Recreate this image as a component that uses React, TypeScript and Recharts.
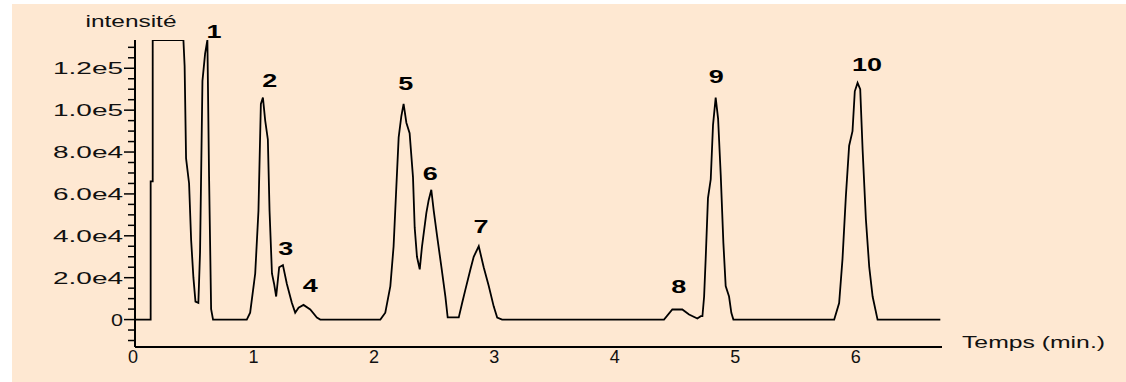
import React from "react";
import { LineChart, Line, XAxis, YAxis, ReferenceDot, Label } from "recharts";

// chromatogram trace (time in min, intensity)
const times = [
  0, 0.13, 0.13, 0.147, 0.147, 0.402, 0.412, 0.424, 0.449, 0.466, 0.485, 0.502, 0.526, 0.54, 0.56, 0.582,
  0.601, 0.615, 0.632, 0.648,
  0.928, 0.956, 0.998, 1.025, 1.045, 1.062, 1.081, 1.103, 1.117, 1.137, 1.155, 1.172, 1.197, 1.228, 1.261,
  1.302, 1.33, 1.358, 1.399, 1.455, 1.51, 1.538,
  2.037, 2.078, 2.12, 2.147, 2.167, 2.189, 2.211, 2.23, 2.253, 2.28, 2.308, 2.322, 2.341, 2.364, 2.383,
  2.419, 2.438, 2.46, 2.48, 2.508, 2.544, 2.577, 2.596, 2.688, 2.716, 2.743, 2.785, 2.812, 2.854, 2.895,
  2.937, 2.978, 3.007, 3.048,
  4.392, 4.461, 4.544, 4.6, 4.669, 4.697, 4.711, 4.725, 4.738, 4.757, 4.78, 4.799, 4.821, 4.841, 4.863,
  4.885, 4.904, 4.932, 4.951, 4.968,
  5.805, 5.846, 5.874, 5.902, 5.929, 5.957, 5.976, 5.999, 6.021, 6.041, 6.068, 6.096, 6.124, 6.165, 6.686,
];
const intensities = [
  0, 0, 66000, 66000, 133500, 133500, 121000, 77000, 65000, 38000, 20000, 8600, 8000, 32000, 114000, 127000,
  133500, 68000, 5000, 0,
  0, 3300, 22000, 52000, 103000, 106000, 95000, 86000, 52000, 22000, 17000, 11000, 25000, 26000, 17000,
  8000, 3300, 5700, 7000, 4800, 1000, 0,
  0, 3300, 16000, 35000, 60000, 87000, 97000, 103000, 94000, 89000, 68000, 44000, 30000, 24000, 35000,
  51000, 57000, 62000, 52000, 40000, 25000, 11000, 1000, 1000, 7900, 14300, 24000, 30000, 35000, 25000,
  16000, 6300, 1000, 0,
  0, 4800, 4800, 2400, 500, 1600, 1600, 11000, 29000, 58000, 67000, 93000, 106000, 96000, 69000,
  36500, 16000, 11000, 3200, 0,
  0, 7900, 29000, 59000, 83000, 90000, 109000, 113000, 110000, 81000, 48000, 25000, 11000, 0, 0,
];

// peak numbers and where they sit
const peakIds = ["1", "2", "3", "4", "5", "6", "7", "8", "9", "10"];
const peakLabelTimes = [0.657, 1.118, 1.251, 1.455, 2.249, 2.452, 2.872, 4.514, 4.825, 6.077];
const peakLabelLevels = [134500, 111000, 30800, 13100, 109700, 66700, 41300, 12700, 113000, 118800];

const xTicks = [0, 1, 2, 3, 4, 5, 6];
const yTicks = [
  -10000, -5000, 0, 5000, 10000, 15000, 20000, 25000, 30000, 35000, 40000, 45000, 50000, 55000, 60000,
  65000, 70000, 75000, 80000, 85000, 90000, 95000, 100000, 105000, 110000, 115000, 120000, 125000, 130000,
];
const yMajorValues = [0, 20000, 40000, 60000, 80000, 100000, 120000];
const yMajorLabels = ["0", "2.0e4", "4.0e4", "6.0e4", "8.0e4", "1.0e5", "1.2e5"];

const data = times.map((t, i) => ({ t, v: intensities[i] }));

const font = "'Liberation Sans', Arial, sans-serif";

const YTick = (props: any) => {
  const { x, y, payload } = props;
  const idx = yMajorValues.indexOf(payload.value);
  const major = idx >= 0;
  return (
    <g>
      <line x1={x - (major ? 11 : 7)} x2={x} y1={y} y2={y} stroke="#000" strokeWidth={1.5} />
      {major && (
        <text
          x={x - 12}
          y={y + 6}
          textAnchor="end"
          fontFamily={font}
          fontSize={17}
          fill="#111"
          textLength={yMajorLabels[idx].length === 1 ? 12 : 70}
          lengthAdjust="spacingAndGlyphs"
        >
          {yMajorLabels[idx]}
        </text>
      )}
    </g>
  );
};

const XTick = (props: any) => {
  const { x, y, payload } = props;
  return (
    <text x={x - 2} y={y + 16} textAnchor="middle" fontFamily={font} fontSize={18} fill="#111">
      {payload.value}
    </text>
  );
};

export default function App() {
  return (
    <div style={{ position: "absolute", left: 0, top: 0, width: 1126, height: 382, background: "#fff" }}>
      <div style={{ position: "absolute", left: 12, top: 4, right: 0, bottom: 0, background: "#fee8d2" }} />
      <div style={{ position: "absolute", left: 0, top: 0 }}>
        <LineChart width={1126} height={382} data={data} margin={{ top: 40, right: 184, bottom: 0, left: 0 }}>
          <XAxis
            dataKey="t"
            type="number"
            domain={[0, 6.7]}
            ticks={xTicks}
            allowDataOverflow
            height={35}
            tickSize={0}
            tickMargin={0}
            tickLine={false}
            axisLine={{ stroke: "#000", strokeWidth: 2 }}
            tick={XTick}
          >
            <Label
              content={(p: any) => (
                <text
                  x={p.viewBox.x + p.viewBox.width + 20}
                  y={p.viewBox.y + 1}
                  fontFamily={font}
                  fontSize={17}
                  fill="#111"
                  textLength={143}
                  lengthAdjust="spacingAndGlyphs"
                >
                  Temps (min.)
                </text>
              )}
            />
          </XAxis>
          <YAxis
            type="number"
            domain={[-13100, 133500]}
            ticks={yTicks}
            allowDataOverflow
            width={135}
            tickSize={0}
            tickMargin={0}
            tickLine={false}
            interval={0}
            axisLine={{ stroke: "#000", strokeWidth: 2 }}
            tick={YTick}
          >
            <Label
              content={(p: any) => (
                <text
                  x={p.viewBox.x + p.viewBox.width - 4}
                  y={p.viewBox.y - 13}
                  textAnchor="middle"
                  fontFamily={font}
                  fontSize={16}
                  fill="#111"
                  textLength={91}
                  lengthAdjust="spacingAndGlyphs"
                >
                  intensité
                </text>
              )}
            />
          </YAxis>
          <Line
            type="linear"
            dataKey="v"
            stroke="#000"
            strokeWidth={1.8}
            dot={false}
            isAnimationActive={false}
          />
          {peakIds.map((id, i) => (
            <ReferenceDot
              key={id}
              x={peakLabelTimes[i]}
              y={peakLabelLevels[i]}
              ifOverflow="visible"
              shape={(p: any) => (
                <text
                  x={p.cx}
                  y={p.cy}
                  textAnchor="middle"
                  fontFamily={font}
                  fontWeight="bold"
                  fontSize={18}
                  fill="#000"
                  textLength={id.length * 15}
                  lengthAdjust="spacingAndGlyphs"
                >
                  {id}
                </text>
              )}
            />
          ))}
        </LineChart>
      </div>
    </div>
  );
}
